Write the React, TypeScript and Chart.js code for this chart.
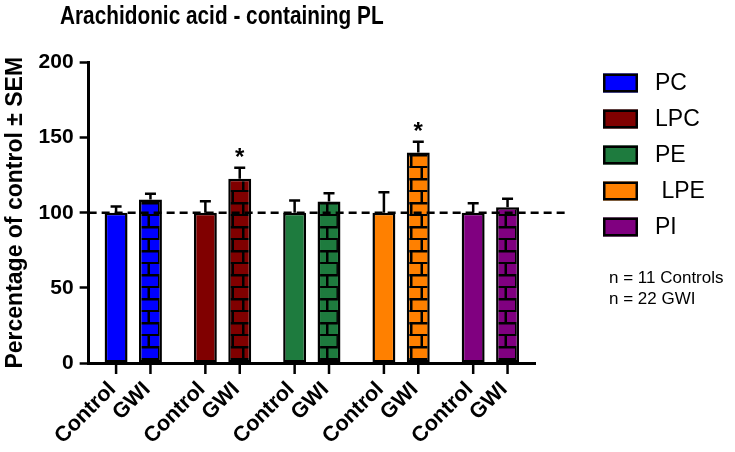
import React, { useEffect, useRef } from "react";
import { Chart, registerables } from "chart.js";

Chart.register(...registerables);

const classes = ["PC", "LPC", "PE", "LPE", "PI"];
const groupLabels = ["Control", "GWI"];
const controlValues = [100, 100, 100, 100, 100];
const controlSem = [4.1, 7.7, 8.2, 13.7, 6.4];
const gwiValues = [108.8, 122.7, 107.5, 140.1, 103.7];
const gwiSem = [3.8, 7.3, 5.5, 7.1, 5.6];
const gwiSignificant = [false, true, false, true, false];
const classColors = ["#0000FF", "#800000", "#1E7B3E", "#FF8000", "#800080"];
const legendLabels = ["PC", "LPC", "PE", " LPE", "PI"];
const yTicks = [0, 50, 100, 150, 200];
const referenceLine = 100;
const titleText = "Arachidonic acid - containing PL";
const yTitle = "Percentage of control \u00B1 SEM";
const noteLines = ["n = 11 Controls", "n = 22 GWI"];

const FONT = "'Liberation Sans', Arial, Helvetica, sans-serif";

function brickPattern(color: string): CanvasPattern | string {
  const c = document.createElement("canvas");
  c.width = 21;
  c.height = 24;
  const g = c.getContext("2d");
  if (!g) return color;
  g.fillStyle = color;
  g.fillRect(0, 0, 21, 24);
  g.fillStyle = "#000";
  g.fillRect(0, 10, 21, 2.5);
  g.fillRect(0, 22, 21, 2);
  g.fillRect(0.5, 0, 2.5, 10);
  g.fillRect(11, 12, 2.5, 10);
  return g.createPattern(c, "repeat") || color;
}

const overlayPlugin = {
  id: "overlay",
  afterDatasetsDraw(chart: any) {
    const { ctx, chartArea, scales } = chart;
    const y = scales.y;
    ctx.save();
    ctx.strokeStyle = "#000";
    ctx.fillStyle = "#000";

    // error bars + significance stars
    const sets = [
      { vals: controlValues, sems: controlSem },
      { vals: gwiValues, sems: gwiSem },
    ];
    sets.forEach((s, di) => {
      const meta = chart.getDatasetMeta(di);
      meta.data.forEach((el: any, j: number) => {
        const top = y.getPixelForValue(s.vals[j]);
        const cap = y.getPixelForValue(s.vals[j] + s.sems[j]);
        ctx.lineWidth = 2.5;
        ctx.beginPath();
        ctx.moveTo(el.x, top);
        ctx.lineTo(el.x, cap);
        ctx.moveTo(el.x - 5.5, cap);
        ctx.lineTo(el.x + 5.5, cap);
        ctx.stroke();
        if (di === 1 && gwiSignificant[j]) {
          ctx.font = `bold 24px ${FONT}`;
          ctx.textAlign = "center";
          ctx.textBaseline = "alphabetic";
          ctx.fillText("*", el.x, cap - 3);
        }
      });
    });

    // dashed reference line
    const yRef = y.getPixelForValue(referenceLine);
    ctx.setLineDash([8, 5]);
    ctx.lineWidth = 2.5;
    ctx.beginPath();
    ctx.moveTo(chartArea.left, yRef);
    ctx.lineTo(chartArea.right + 30, yRef);
    ctx.stroke();
    ctx.setLineDash([]);

    // x tick marks and rotated labels at each bar
    const bottom = chartArea.bottom;
    [0, 1].forEach((di) => {
      chart.getDatasetMeta(di).data.forEach((el: any) => {
        ctx.lineWidth = 2.5;
        ctx.beginPath();
        ctx.moveTo(el.x, bottom);
        ctx.lineTo(el.x, bottom + 11);
        ctx.stroke();
        ctx.save();
        ctx.translate(el.x - 3.5, bottom + 23);
        ctx.rotate(-Math.PI / 4);
        ctx.font = `bold 21.5px ${FONT}`;
        ctx.textAlign = "right";
        ctx.textBaseline = "middle";
        ctx.fillText(groupLabels[di], 0, 0);
        ctx.restore();
      });
    });

    // title
    ctx.save();
    ctx.translate(60, 24);
    ctx.scale(0.8, 1);
    ctx.font = `bold 26px ${FONT}`;
    ctx.textAlign = "left";
    ctx.textBaseline = "alphabetic";
    ctx.fillText(titleText, 0, 0);
    ctx.restore();

    // legend
    const lx = chartArea.right + 68;
    legendLabels.forEach((lab, i) => {
      const yc = chartArea.top + 20.5 + i * 36;
      ctx.fillStyle = classColors[i];
      ctx.fillRect(lx, yc - 9.5, 35, 19);
      ctx.lineWidth = 2.5;
      ctx.strokeStyle = "#000";
      ctx.strokeRect(lx + 1.25, yc - 8.25, 32.5, 16.5);
      ctx.fillStyle = "#000";
      ctx.font = `23px ${FONT}`;
      ctx.textAlign = "left";
      ctx.textBaseline = "middle";
      ctx.fillText(lab, lx + 52, yc + 1);
    });

    // note
    ctx.font = `17px ${FONT}`;
    ctx.textAlign = "left";
    ctx.textBaseline = "alphabetic";
    noteLines.forEach((line, i) => {
      ctx.fillText(line, chartArea.right + 74, chartArea.top + 220 + i * 21.5);
    });

    ctx.restore();
  },
};

export default function App() {
  const ref = useRef<HTMLCanvasElement | null>(null);
  useEffect(() => {
    document.body.style.margin = "0";
    const canvas = ref.current;
    if (!canvas) return;
    const chart = new Chart(canvas, {
      type: "bar",
      data: {
        labels: classes,
        datasets: [
          {
            label: groupLabels[0],
            data: controlValues,
            backgroundColor: classColors,
            borderColor: "#000",
            borderWidth: 2.5,
            borderSkipped: false,
            categoryPercentage: 0.77,
            barPercentage: 0.667,
          },
          {
            label: groupLabels[1],
            data: gwiValues,
            backgroundColor: classColors.map((c) => brickPattern(c)) as any,
            borderColor: "#000",
            borderWidth: 2.5,
            borderSkipped: false,
            categoryPercentage: 0.77,
            barPercentage: 0.667,
          },
        ],
      },
      options: {
        responsive: false,
        animation: false,
        devicePixelRatio: 1,
        layout: { padding: { top: 62.5, right: 200, bottom: 81, left: 2 } },
        plugins: {
          legend: { display: false },
          title: { display: false },
          tooltip: { enabled: false },
        },
        scales: {
          x: {
            type: "category",
            grid: { display: false },
            ticks: { display: false },
            border: { display: true, color: "#000", width: 3 },
          },
          y: {
            min: yTicks[0],
            max: yTicks[yTicks.length - 1],
            ticks: {
              stepSize: yTicks[1] - yTicks[0],
              color: "#000",
              padding: 6,
              font: { family: FONT, size: 21, weight: "bold" },
            },
            grid: {
              drawOnChartArea: false,
              drawTicks: true,
              tickLength: 9,
              tickWidth: 2.5,
              tickColor: "#000",
              color: "#000",
            },
            border: { display: true, color: "#000", width: 3 },
            title: {
              display: true,
              text: yTitle,
              color: "#000",
              font: { family: FONT, size: 23, weight: "bold" },
              padding: { top: 0, bottom: 3 },
            },
          },
        },
      },
      plugins: [overlayPlugin],
    } as any);
    return () => chart.destroy();
  }, []);
  return (
    <canvas
      ref={ref}
      width={735}
      height={452}
      style={{ display: "block", width: 735, height: 452 }}
    />
  );
}
